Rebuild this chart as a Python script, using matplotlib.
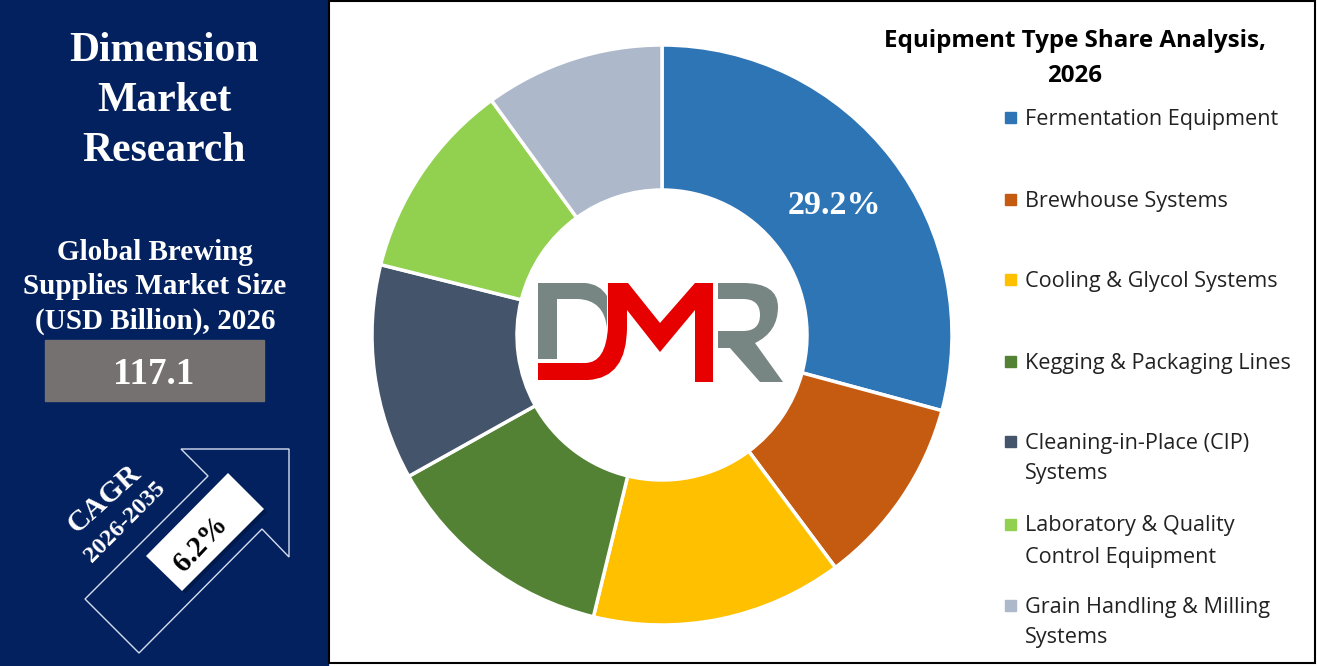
import matplotlib
matplotlib.use('Agg')
import matplotlib.pyplot as plt
from matplotlib.patches import Polygon, Rectangle, PathPatch
from matplotlib.path import Path

segments = ['Fermentation Equipment', 'Brewhouse Systems', 'Cooling & Glycol Systems',
            'Kegging & Packaging Lines', 'Cleaning-in-Place (CIP)\nSystems',
            'Laboratory & Quality\nControl Equipment', 'Grain Handling & Milling\nSystems']
shares = [29.2, 10.6, 14.0, 13.1, 12.0, 11.1, 10.0]
colors = ['#2E75B6', '#C55A11', '#FFC000', '#548235', '#44546A', '#92D050', '#ADB9CA']
legend_y = [118, 200, 280, 362, 442, 525, 606]
W, H = 1317, 666

fig = plt.figure(figsize=(W / 100, H / 100), dpi=100, facecolor='white')
bg = fig.add_axes([0, 0, 1, 1])
bg.set_xlim(0, W)
bg.set_ylim(H, 0)
bg.axis('off')

# left panel
bg.add_patch(Rectangle((0, 0), 328, H, color='#03215F'))
bg.add_patch(Rectangle((329, 1), 986, 662, fc='white', ec='black', lw=1.5))

serif = 'Liberation Serif'
for txt, y in zip(['Dimension', 'Market', 'Research'], [51, 101, 151]):
    bg.text(164, y, txt, color='white', family=serif, weight='bold', fontsize=30, ha='center', va='center')
for txt, y in zip(['Global Brewing', 'Supplies Market Size', '(USD Billion), 2026'], [252, 287, 321]):
    bg.text(155, y, txt, color='white', family=serif, weight='bold', fontsize=21, ha='center', va='center')

bg.add_patch(Rectangle((45, 340), 219, 61, color='#767171'))
bg.text(154, 374, '117.1', color='white', family=serif, weight='bold', fontsize=26.7, ha='center', va='center')

# arrow outline
arrow = [(85, 599), (208, 476), (181, 449), (289, 449), (289, 557), (262, 529), (139, 653)]
bg.add_patch(Polygon(arrow, closed=True, fc='none', ec='#D5DEEE', lw=1))
box = [(228, 473), (264, 509), (182, 591), (146, 556)]
bg.add_patch(Polygon([(x + 3, y + 3) for x, y in box], closed=True, fc='#011A4D', ec='none'))
bg.add_patch(Polygon(box, closed=True, fc='white', ec='none'))
bg.text(201, 544, '6.2%', color='black', family=serif, weight='bold', fontsize=21, ha='center', va='center', rotation=47, rotation_mode='anchor')
bg.text(104, 499, 'CAGR', color='white', family=serif, weight='bold', fontsize=21.5, ha='center', va='center', rotation=42, rotation_mode='anchor')
bg.text(125, 522, '2026-2035', color='white', family=serif, weight='bold', fontsize=17.5, ha='center', va='center', rotation=45, rotation_mode='anchor')

# donut
cx, cy, r = 662, 335, 290
ax = fig.add_axes([(cx - r) / W, 1 - (cy + r) / H, 2 * r / W, 2 * r / H])
ax.pie(shares, colors=colors, startangle=90, counterclock=False, radius=1,
       wedgeprops=dict(width=0.5, edgecolor='white', linewidth=2.5))
ax.set_xlim(-1, 1)
ax.set_ylim(-1, 1)

# overlay for things sitting on the donut
fg = fig.add_axes([0, 0, 1, 1])
fg.set_xlim(0, W)
fg.set_ylim(H, 0)
fg.axis('off')
fg.text(834, 205, '29.2%', color='white', family=serif, weight='bold', fontsize=24.5, ha='center', va='center')

# DMR logo
logo_gray = '#778583'
logo_red = '#E60000'
M, L, C = Path.MOVETO, Path.LINETO, Path.CURVE3
d_verts = [(538, 283), (585, 283), (600, 284), (607, 296), (607, 328), (604, 300), (578, 299),
           (557, 299), (557, 359), (538, 359), (538, 283)]
d_codes = [M, L, C, C, L, C, C, L, L, L, Path.CLOSEPOLY]
fg.add_patch(PathPatch(Path(d_verts, d_codes), fc=logo_gray, ec='none'))
j_verts = [(608, 327), (606, 363), (585, 363), (538, 363), (538, 380), (588, 380), (627, 378), (627, 327), (608, 327)]
j_codes = [M, C, C, L, L, L, C, C, Path.CLOSEPOLY]
fg.add_patch(PathPatch(Path(j_verts, j_codes), fc=logo_red, ec='none'))
m_pts = [(608, 283), (628, 283), (660, 323), (695, 283), (713, 283), (713, 382), (695, 382),
         (695, 310), (660, 352), (627, 310), (627, 330), (608, 330)]
fg.add_patch(Polygon(m_pts, closed=True, fc=logo_red, ec='none'))
r_verts = [(718, 283), (743, 283), (778, 283), (778, 307), (778, 332), (755, 343), (783, 382), (760, 382),
           (730, 348), (718, 348), (718, 331), (743, 331), (760, 331), (760, 315), (760, 299), (743, 299),
           (718, 299), (718, 283)]
r_codes = [M, L, C, C, C, C, L, L, L, L, L, L, C, C, C, C, L, Path.CLOSEPOLY]
fg.add_patch(PathPatch(Path(r_verts, r_codes), fc=logo_gray, ec='none'))

# title and legend
sans = 'Open Sans'
bg.text(1075, 41, 'Equipment Type Share Analysis,', family=sans, weight='bold', fontsize=17.4, ha='center', va='center')
bg.text(1075, 76, '2026', family=sans, weight='bold', fontsize=17.4, ha='center', va='center')
for name, col, y in zip(segments, colors, legend_y):
    bg.add_patch(Rectangle((1005, y - 6), 11, 11, color=col))
    lines = name.split('\n')
    for i, line in enumerate(lines):
        bg.text(1025, y + 1 + i * 31, line, family=sans, fontsize=15.6, color='#222222', ha='left', va='center')

fig.savefig('out.png', dpi=100)
